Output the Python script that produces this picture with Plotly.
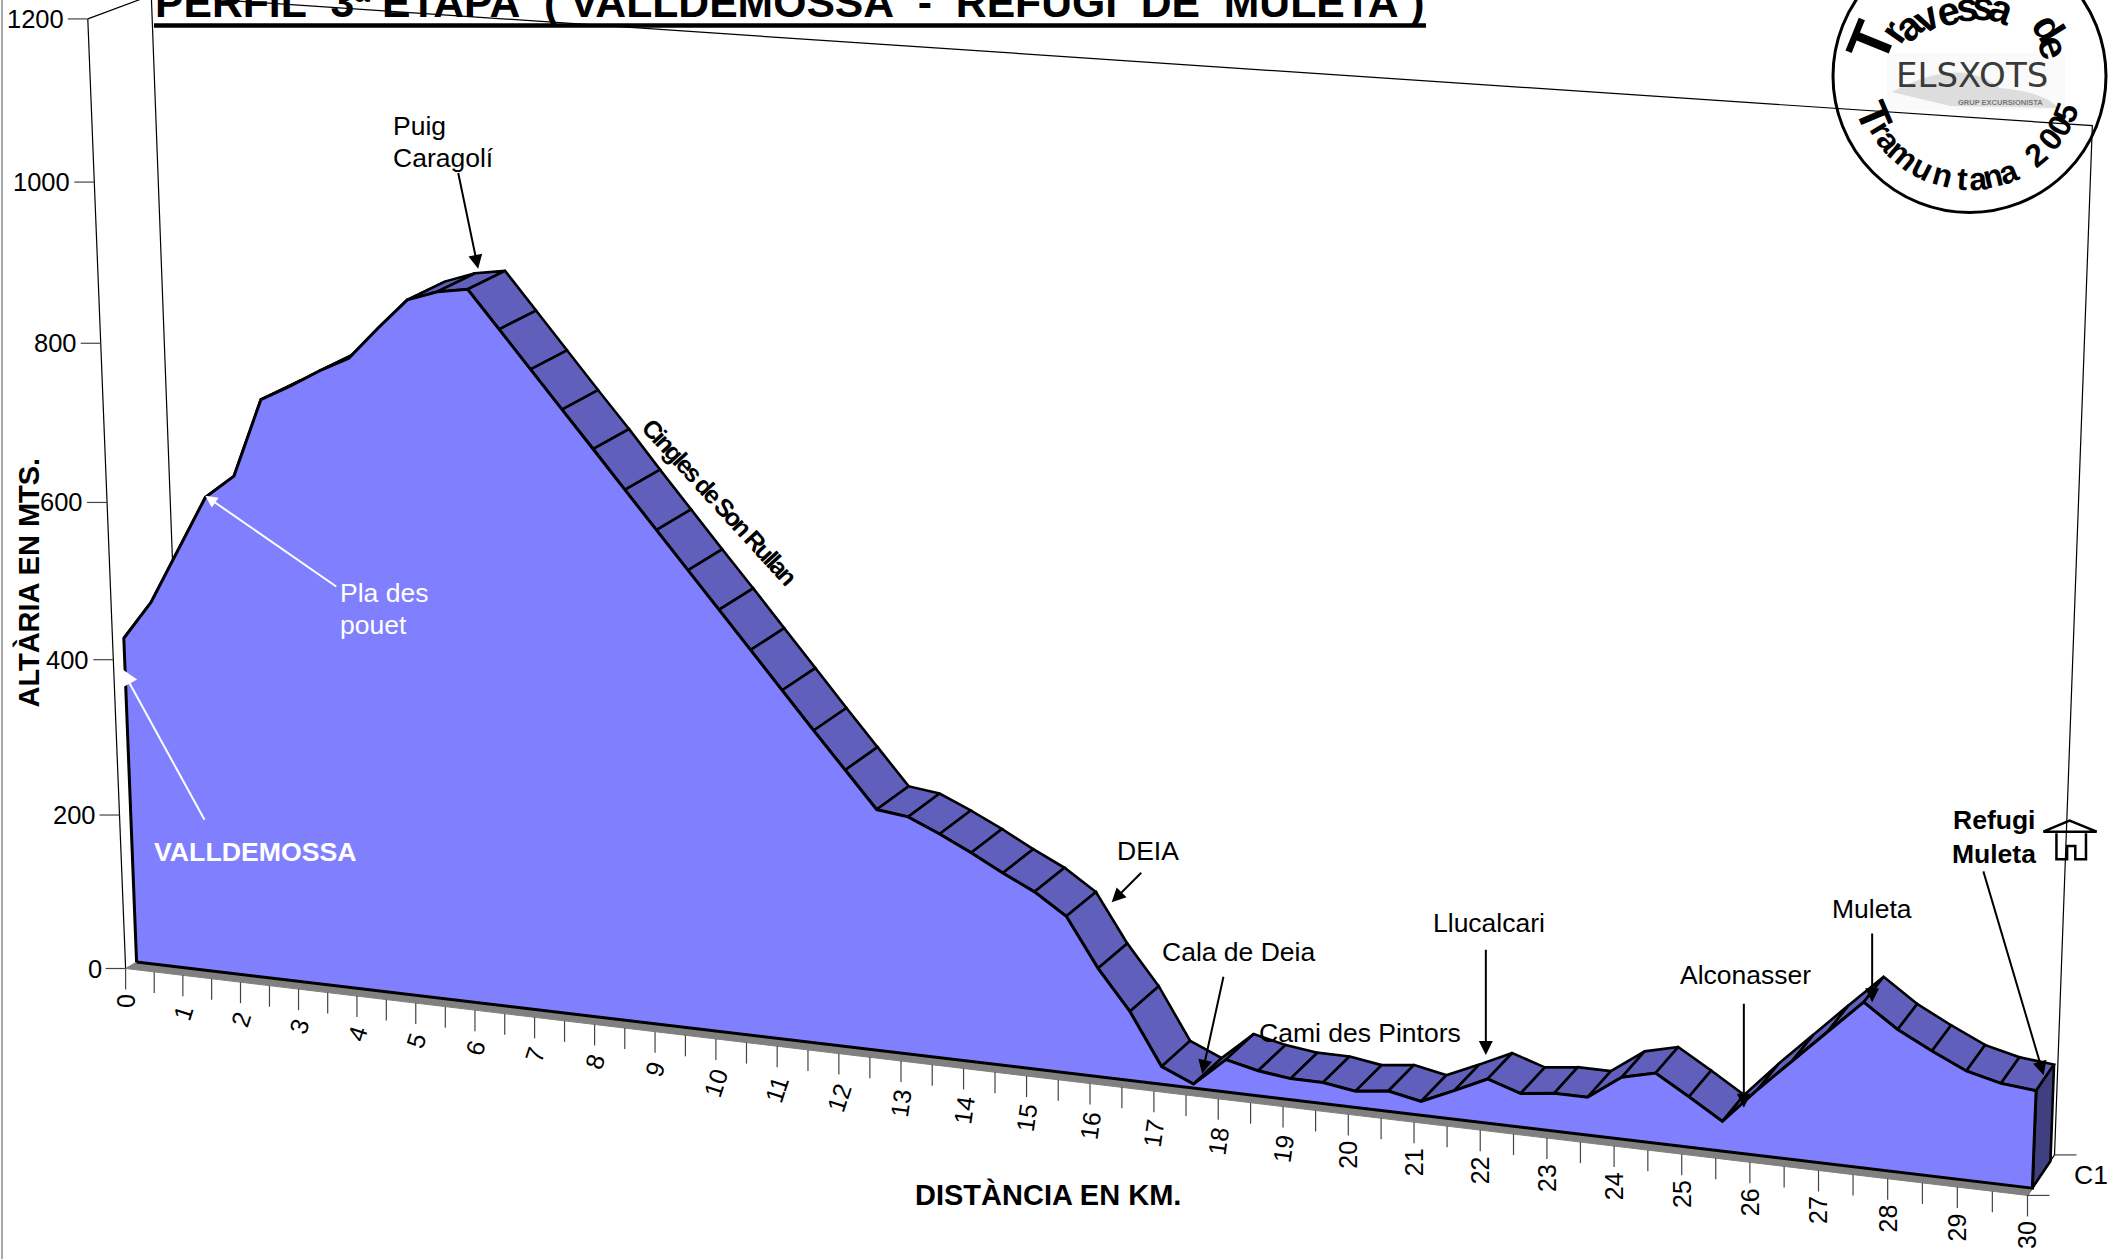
import plotly.graph_objects as go
import math

# ---------- data ----------
DIST_KM = [0, .5, 1, 1.5, 2, 2.5, 3, 3.5, 4, 4.5, 5, 5.5, 6, 6.5, 7, 7.5, 8, 8.5, 9, 9.5, 10,
           10.5, 11, 11.5, 12, 12.5, 13, 13.5, 14, 14.5, 15, 15.5, 16, 16.5, 17, 17.5, 18, 18.5, 19, 19.5, 20,
           20.5, 21, 21.5, 22, 22.5, 23, 23.5, 24, 24.5, 25, 25.5, 26, 26.5, 27, 27.5, 28, 28.5, 29, 29.5, 30]
ALT_M = [420, 470, 540, 610, 640, 739, 759, 781, 800, 840, 878, 891, 897, 851, 805, 759, 714, 667, 621, 575, 530,
         484, 438, 392, 347, 302, 297, 280, 261, 240, 221, 195, 135, 86, 22, 5, 40, 31, 26, 26, 20,
         25, 17, 35, 54, 41, 46, 46, 75, 85, 61, 36, 79, 119, 159, 198, 170, 149, 130, 120, 116]
ALT_TICKS = [0, 200, 400, 600, 800, 1000, 1200]
KM_LABELS = list(range(0, 31))
TITLE = "PERFIL\u00a0\u00a03ª\u00a0ETAPA\u00a0\u00a0(\u00a0VALLDEMOSSA\u00a0\u00a0-\u00a0\u00a0REFUGI\u00a0\u00a0DE\u00a0\u00a0MULETA\u00a0)"
TOP_LETTERS = ["T", "r", "a", "v", "e", "s", "s", "a", "d", "e"]
BOTTOM_ARC = "Tramuntana2005"
BOTTOM_ANGLES = [67, 59, 51, 40, 27, 15, 4, -5, -13, -22, -40, -52, -61, -69]

# ---------- view of the 3-D box ----------
K = 2118 / 1568
F00, F10, F01, F11 = (93, 717), (1501, 885), (65, 14), (1531, 112)
B00, B10, B01, B11 = (138, 690), (1521, 855), (112, -3.5), (1549, 93)
W_FRONT, W_BACK = 0.18, 0.85


def P(km, alt, w=0.0):
    t = km / 30
    s = t / (t + 1.111 * (1 - t))
    v = alt / 1200
    f = v / (v + 1.0375 * (1 - v))
    out = []
    for i in (0, 1):
        front = (1-s)*(1-f)*F00[i] + s*(1-f)*F10[i] + (1-s)*f*F01[i] + s*f*F11[i]
        back = (1-s)*(1-f)*B00[i] + s*(1-f)*B10[i] + (1-s)*f*B01[i] + s*f*B11[i]
        out.append(K * ((1-w)*front + w*back))
    return tuple(out)


fig = go.Figure()


def poly(pts, fill=None, color="black", width=1.0):
    xs = [p[0] for p in pts]
    ys = [p[1] for p in pts]
    fig.add_trace(go.Scatter(x=xs, y=ys, mode="lines", line=dict(color=color, width=width),
                             fill="toself" if fill else None, fillcolor=fill,
                             hoverinfo="skip", showlegend=False))


THIN = "black"
# frame of the box
poly([P(0, 1200, 0), P(0, 0, 0)], color=THIN, width=1.2)
poly([P(0, 1200, 0), P(0, 1200, 1), P(30, 1200, 1), P(30, 0, 1)], color=THIN, width=1.2)
poly([P(0, 1200, 1), P(0, 0, 1)], color=THIN, width=1.2)
poly([P(30, 0, 0), P(30, 0, 1)], color=THIN, width=1.2)
poly([(2, 0), (2, 1259)], color="#a6a6a6", width=2)

# floor edge
poly([P(0, 0, 0), P(30, 0, 0), P(30, 0, W_FRONT), P(0, 0, W_FRONT), P(0, 0, 0)], fill="#808080", color="#808080", width=1)

# ticks
for a in ALT_TICKS:
    x, y = P(0, a, 0)
    poly([(x - 20, y), (x, y)], color="#444444", width=1.2)
    fig.add_annotation(x=x - 22, y=y, text=str(a), showarrow=False, xanchor="right", yanchor="middle",
                       font=dict(size=25.5, color="black"))
for km in DIST_KM:
    x, y = P(km, 0, 0)
    poly([(x, y), (x, y + 21)], color="#444444", width=1.2)
for km in KM_LABELS:
    x, y = P(km, 0, 0)
    ang = -72 if km and km < 13 else (-82 if km and km < 20 else -90)
    fig.add_annotation(x=x, y=y + 24, text=str(km), showarrow=False, xanchor="center", yanchor="top",
                       textangle=ang, font=dict(size=25, color="black"))
for w in (0, 1):
    x, y = P(30, 0, w)
    poly([(x, y), (x + 22, y)], color="#444444", width=1.2)

# top of the ridge, left to right
for i in range(len(DIST_KM) - 1):
    a, b = (DIST_KM[i], ALT_M[i]), (DIST_KM[i + 1], ALT_M[i + 1])
    poly([P(a[0], a[1], W_FRONT), P(b[0], b[1], W_FRONT), P(b[0], b[1], W_BACK), P(a[0], a[1], W_BACK),
          P(a[0], a[1], W_FRONT)], fill="#6060BC", width=2.6)
# right end
poly([P(30, 0, W_FRONT), P(30, ALT_M[-1], W_FRONT), P(30, ALT_M[-1], W_BACK), P(30, 0, W_BACK), P(30, 0, W_FRONT)],
     fill="#404080", width=2.6)
# front face
front = [P(k, h, W_FRONT) for k, h in zip(DIST_KM, ALT_M)]
poly([P(0, 0, W_FRONT)] + front + [P(30, 0, W_FRONT), P(0, 0, W_FRONT)], fill="#8080FF", width=3)


# ---------- texts (positions in reference pixels of the 1568 wide view) ----------
def label(x, y, text, color="black", bold=False, size=26.5, anchor="left", angle=0, family="Liberation Sans"):
    if anchor == "left":
        x -= 1.5
    fig.add_annotation(x=x * K, y=y * K, text=f"<b>{text}</b>" if bold else text, showarrow=False,
                       xanchor=anchor, yanchor="middle", textangle=angle, align="left",
                       font=dict(size=size, color=color, family=family))


def arrow(x0, y0, x1, y1, color="black", size=1.4):
    fig.add_annotation(x=x1 * K, y=y1 * K, ax=x0 * K, ay=y0 * K, xref="x", yref="y", axref="x", ayref="y", text="",
                       showarrow=True, arrowhead=2, arrowsize=size, arrowwidth=2, arrowcolor=color, standoff=0)


label(291, 93, "Puig")
label(291, 117, "Caragolí")
arrow(339, 127, 354, 199)
label(252, 439, "Pla des", color="white")
label(252, 463, "pouet", color="white")
arrow(250, 435, 152, 367, color="white", size=1.2)
label(114, 631, "VALLDEMOSSA", color="white", bold=True, size=26.7)
arrow(152, 608, 90, 495, color="white", size=1.7)
label(827, 630, "DEIA")
arrow(846, 645, 823, 668)
label(860, 705, "Cala de Deia")
arrow(906, 722, 890, 795)
label(932, 765, "Cami des Pintors")
label(1061, 683, "Llucalcari")
arrow(1100, 702, 1100, 781)
label(1244, 722, "Alconasser")
arrow(1291, 742, 1291, 820)
label(1356, 673, "Muleta")
arrow(1386, 690, 1386, 742)
label(1446, 607, "Refugi", bold=True)
label(1445, 632, "Muleta", bold=True)
arrow(1468, 644, 1513, 796)
label(545, 385, "Cingles de Son Rullan", bold=True, size=25, anchor="center", angle=47.5)
label(21, 431, "ALTÀRIA EN MTS.", bold=True, anchor="center", angle=-90, size=29)
label(776, 884, "DISTÀNCIA EN KM.", bold=True, anchor="center", size=29)
label(1548, 870, "C1", anchor="center")

# title
fig.add_annotation(x=153, y=28, text=f"<b>{TITLE}</b>", showarrow=False, xanchor="left", yanchor="bottom",
                   font=dict(size=42.7, color="black", family="Liberation Sans"))
poly([(154, 25.5), (1426, 25.5)], width=4.5)

# house
hx = lambda X: (1560 + X / 2.81)
hy = lambda Y: (780 + Y / 3)
poly([(hx(a), hy(b)) for a, b in [(1358, 155), (1432, 122), (1508, 155), (1358, 155)]], width=2.5)
poly([(hx(a), hy(b)) for a, b in [(1395, 160), (1395, 238), (1425, 238), (1425, 198), (1448, 198), (1448, 238),
                                  (1478, 238), (1478, 160)]], width=2.5)

# stamp
CX, CY, R = 1969.5, 76, 136.5
fig.add_shape(type="rect", x0=1887, x1=2065, y0=53, y1=110, fillcolor="#fafafa", line=dict(width=0), layer="below")
fig.add_shape(type="path", path="M 1892 92 Q 1960 55 2000 88 Q 2045 92 2058 108 L 1950 106 Z", fillcolor="#dddddd",
              line=dict(width=0), layer="below")
fig.add_shape(type="circle", x0=CX - R, x1=CX + R, y0=CY - R, y1=CY + R, line=dict(color="black", width=3))
fig.add_annotation(x=1972, y=75, text="ELSXOTS", showarrow=False, font=dict(size=34, color="#3a3a3a", family="DejaVu Sans"))
fig.add_annotation(x=2000, y=102, text="<b>GRUP EXCURSIONISTA</b>", showarrow=False, font=dict(size=7.5, color="#777777"))
TOP_POS = [(275, 125, -68), (340, 92, -55), (385, 78, -42), (440, 52, -30), (505, 32, -15), (560, 22, -3),
           (610, 18, 8), (665, 28, 20), (805, 85, 58), (820, 142, 70)]
for c, (zx, zy, a) in zip(TOP_LETTERS, TOP_POS):
    fig.add_annotation(x=1780 + zx / 3, y=zy / 3, text=f"<b>{c}</b>", showarrow=False, textangle=a,
                       font=dict(size=60 if c == "T" else 40, color="black", family="Liberation Sans"))
for c, a in zip(BOTTOM_ARC, BOTTOM_ANGLES):
    r = 103
    x = CX - r * math.sin(math.radians(a))
    y = CY + r * math.cos(math.radians(a))
    fig.add_annotation(x=x, y=y, text=f"<b>{c}</b>", showarrow=False, textangle=a,
                       font=dict(size=44 if c == "T" else 32, color="black", family="Liberation Sans"))

fig.update_layout(width=2118, height=1259, margin=dict(l=0, r=0, t=0, b=0), paper_bgcolor="white", plot_bgcolor="white",
                  font=dict(family="Liberation Sans"), showlegend=False,
                  xaxis=dict(range=[0, 2118], visible=False, fixedrange=True),
                  yaxis=dict(range=[1259, 0], visible=False, fixedrange=True))
SQUEEZE = """
document.body.style.margin='0';
function squeeze(){document.querySelectorAll('text').forEach(function(t){
  if(t.textContent.indexOf('Cingles')===0){t.style.letterSpacing='-2.4px';}
});}
squeeze();setTimeout(squeeze,300);
"""
fig.write_html("out.html", post_script=SQUEEZE, config={"displayModeBar": False})
